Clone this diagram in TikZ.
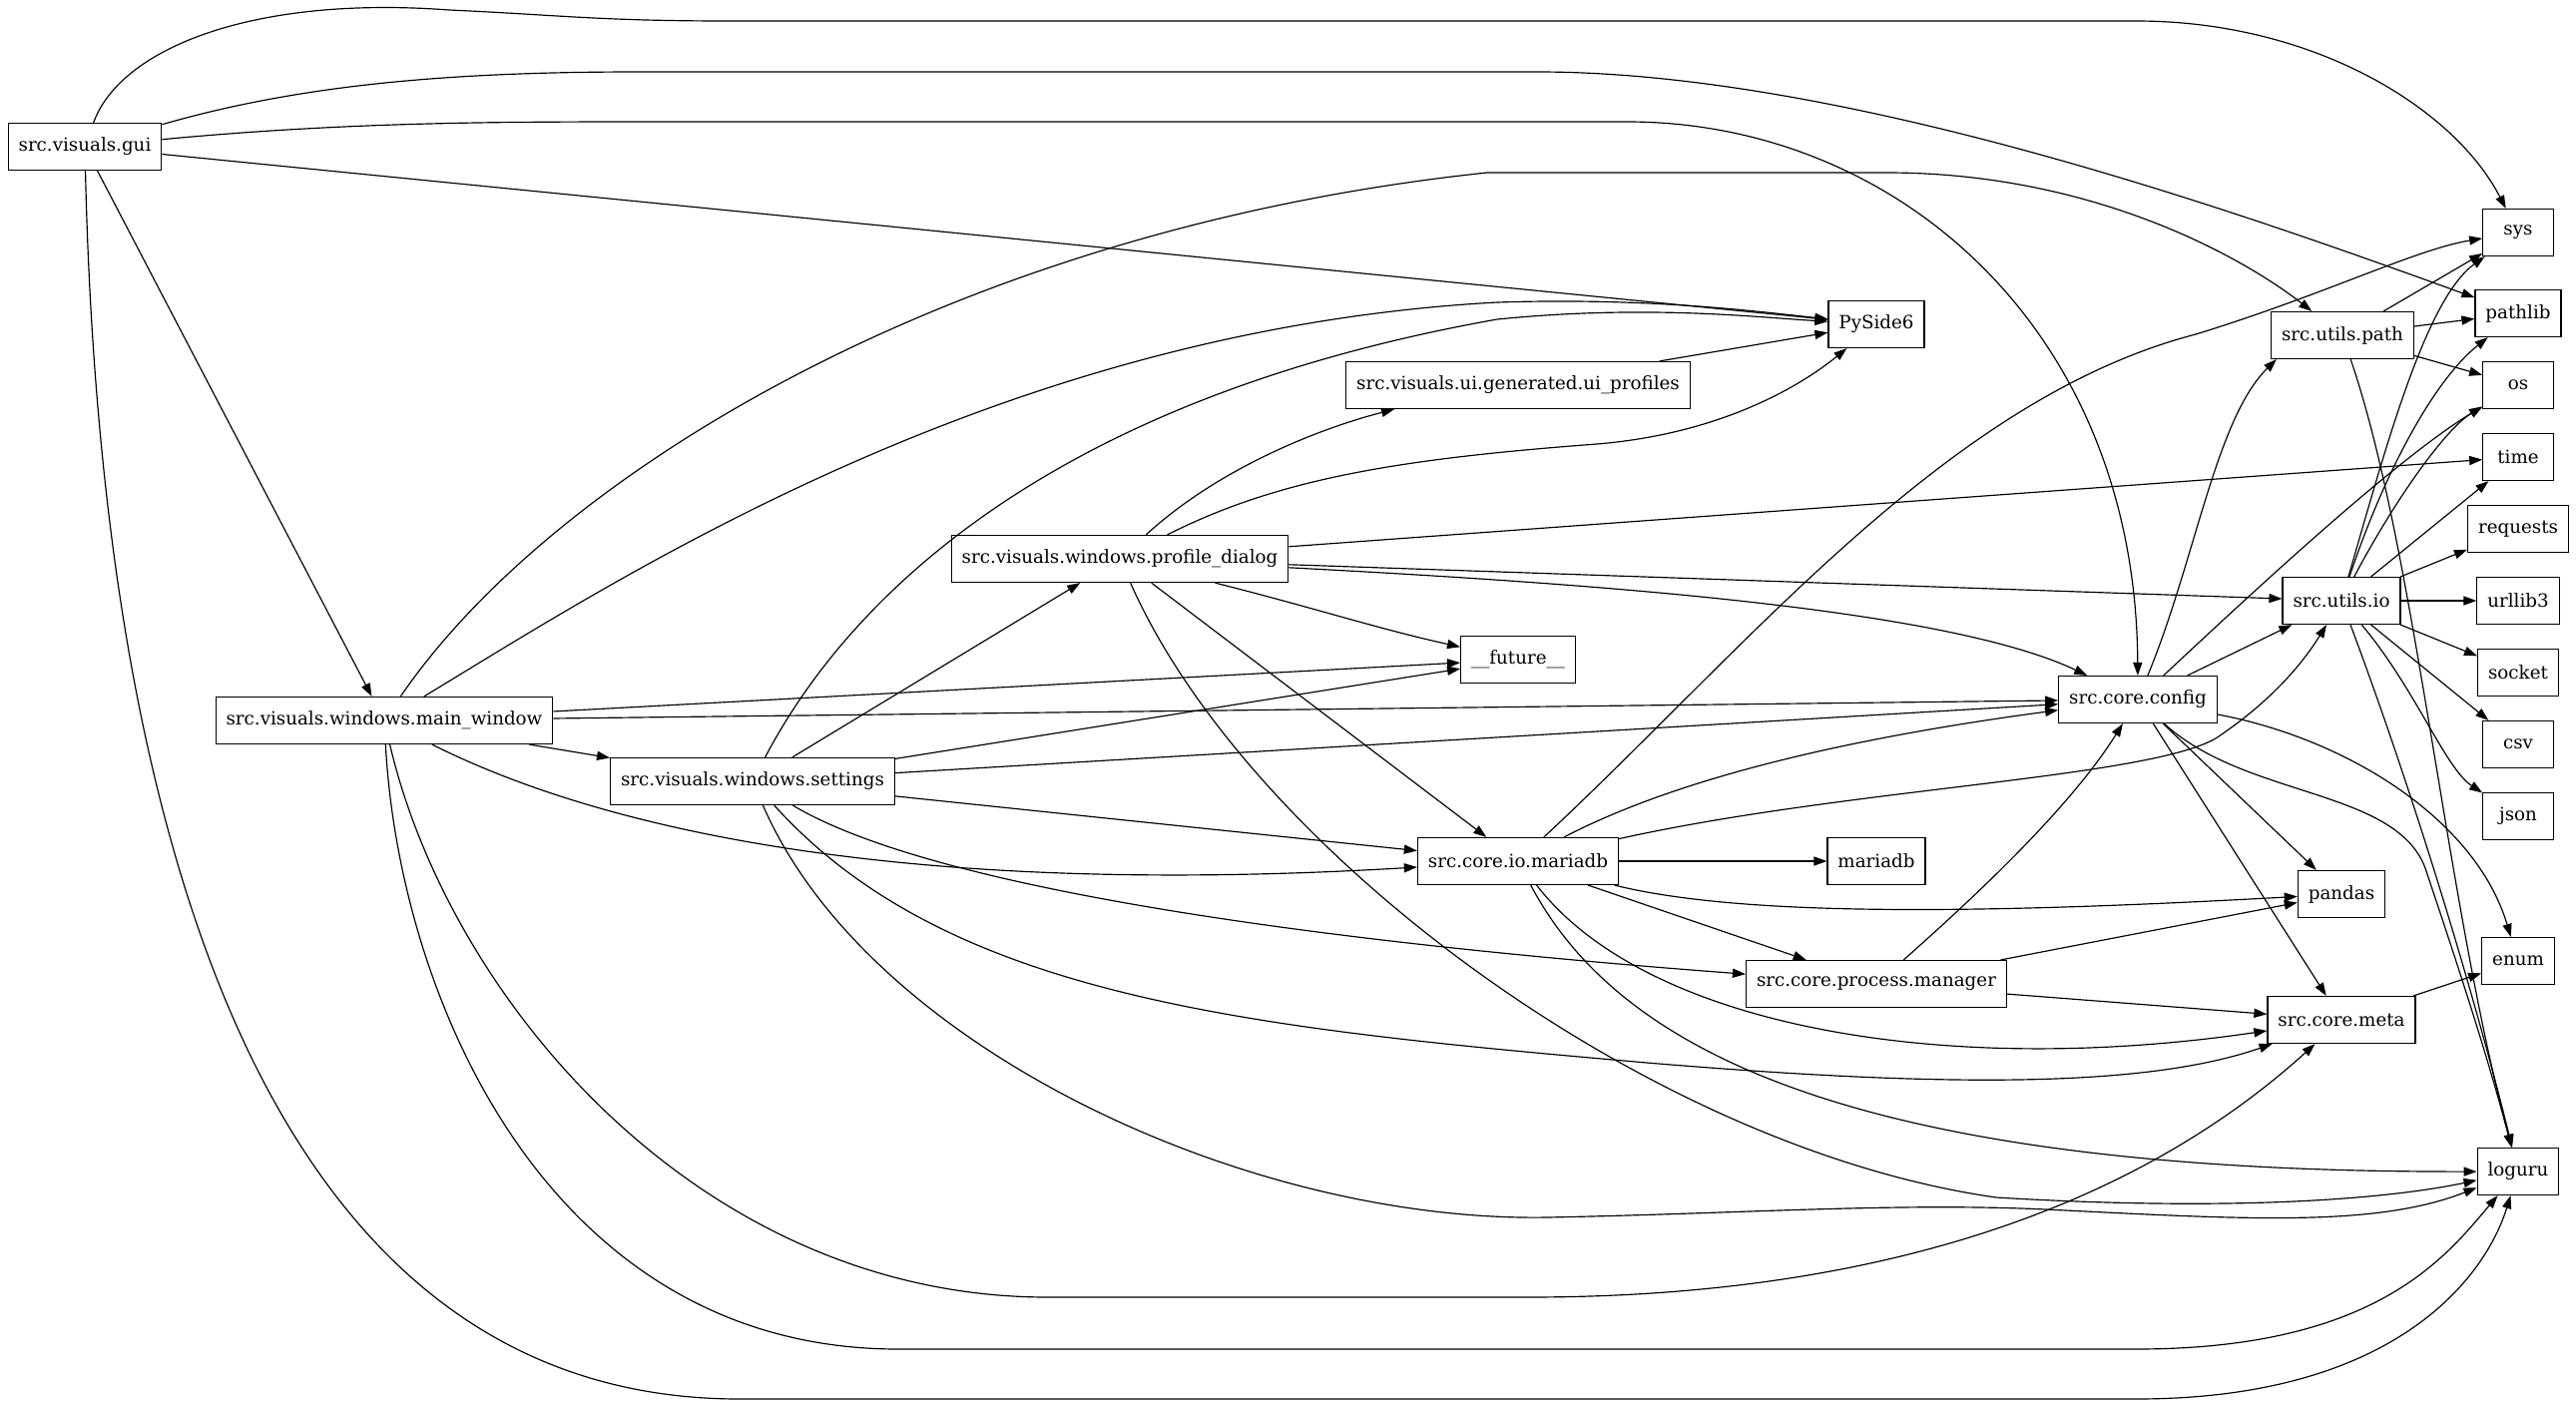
\documentclass[tikz,border=0pt]{standalone}
\usepackage{fontspec}
\setmainfont{DejaVu Serif}
\usepackage{tikz}
\usetikzlibrary{arrows.meta}

\begin{document}
\begin{tikzpicture}[
  x=0.766pt, y=-0.766pt,
  every node/.style={anchor=center, font=\fontsize{14pt}{16pt}\selectfont},
  mod/.style={draw, line width=0.9pt, rectangle, minimum height=36pt,
    minimum width=54pt, inner xsep=8pt},
  dep/.style={->, line width=0.9pt},
  >={Triangle[length=10pt,width=7pt]},
]
\useasboundingbox (0,0) rectangle (2581,1408);
% modules of the project
\node[mod] (gui)      at (85,147)   {src.visuals.gui};
\node[mod] (main)     at (385,722)  {src.visuals.windows.main\_window};
\node[mod] (settings) at (754,783)  {src.visuals.windows.settings};
\node[mod] (profile)  at (1122,560) {src.visuals.windows.profile\_dialog};
\node[mod] (uiprof)   at (1521,386) {src.visuals.ui.generated.ui\_profiles};
\node[mod] (iomaria)  at (1521,863) {src.core.io.mariadb};
\node[mod] (manager)  at (1880,986) {src.core.process.manager};
\node[mod] (config)   at (2142,701) {src.core.config};
\node[mod] (meta)     at (2346,1022) {src.core.meta};
\node[mod] (path)     at (2347,336) {src.utils.path};
\node[mod] (io)       at (2346,602) {src.utils.io};
% external packages
\node[mod] (pyside)   at (1880,325) {PySide6};
\node[mod] (future)   at (1521,661) {\_\_future\_\_};
\node[mod] (mariadb)  at (1880,863) {mariadb};
\node[mod] (pandas)   at (2346,896) {pandas};
\node[mod] (enum)     at (2523,963) {enum};
\node[mod] (loguru)   at (2523,1174) {loguru};
\foreach \pk/\y in {sys/233, pathlib/314, os/386, time/458, requests/530,
  urllib3/602, socket/674, csv/746, json/818}
  \node[mod] (\pk) at (2523,\y) {\pk};

% src.visuals.gui
\draw[dep] (gui) .. controls (120,50) and (250,-5) .. (450,10)
  .. controls (560,15) and (600,21) .. (730,21) -- (2140,21)
  .. controls (2320,21) and (2460,110) .. (sys);
\draw[dep] (gui) .. controls (300,85) and (450,72) .. (640,72) -- (1540,72)
  .. controls (1850,72) and (2250,215) .. (pathlib);
\draw[dep] (gui) .. controls (350,122) and (500,122) .. (660,122) -- (1630,122)
  .. controls (1900,122) and (2140,330) .. (config);
\draw[dep] (gui) -- (pyside);
\draw[dep] (gui) -- (main);
\draw[dep] (gui) .. controls (100,800) and (250,1402) .. (741,1402) -- (2140,1402)
  .. controls (2400,1402) and (2490,1280) .. (loguru);

% src.visuals.windows.main_window
\draw[dep] (main) .. controls (550,480) and (950,230) .. (1490,173) -- (1890,173)
  .. controls (2100,173) and (2250,260) .. (path);
\draw[dep] (main) .. controls (620,580) and (1000,330) .. (1500,303)
  .. controls (1650,298) and (1760,312) .. (pyside);
\draw[dep] (main) -- (future);
\draw[dep] (main) -- (config);
\draw[dep] (main) -- (settings);
\draw[dep] (main) .. controls (600,830) and (900,900) .. (iomaria);
\draw[dep] (main) .. controls (450,1000) and (700,1300) .. (1050,1300) -- (1530,1300)
  .. controls (1900,1300) and (2150,1200) .. (meta);
\draw[dep] (main) .. controls (400,1000) and (550,1352) .. (900,1352) -- (2140,1352)
  .. controls (2380,1352) and (2450,1260) .. (loguru);

% src.visuals.windows.settings
\draw[dep] (settings) .. controls (850,600) and (1050,400) .. (1500,320)
  .. controls (1650,305) and (1760,318) .. (pyside);
\draw[dep] (settings) -- (profile);
\draw[dep] (settings) -- (future);
\draw[dep] (settings) -- (config);
\draw[dep] (settings) -- (iomaria);
\draw[dep] (settings) .. controls (950,900) and (1400,950) .. (manager);
\draw[dep] (settings) .. controls (950,1000) and (1250,1030) .. (1650,1065)
  .. controls (1950,1090) and (2150,1090) .. (meta);
\draw[dep] (settings) .. controls (870,1050) and (1250,1225) .. (1550,1220)
  .. controls (1750,1216) and (1900,1205) .. (2050,1212)
  .. controls (2250,1222) and (2380,1230) .. (loguru);

% src.visuals.windows.profile_dialog
\draw[dep] (profile) .. controls (1220,470) and (1320,430) .. (uiprof.191);
\draw[dep] (profile) .. controls (1280,480) and (1400,460) .. (1600,445)
  .. controls (1720,435) and (1800,390) .. (pyside);
\draw[dep] (profile) -- (time);
\draw[dep] (profile) -- (io);
\draw[dep] (profile) .. controls (1600,585) and (1950,610) .. (config);
\draw[dep] (profile) .. controls (1320,610) and (1380,630) .. (future);
\draw[dep] (profile) -- (iomaria);
\draw[dep] (profile) .. controls (1250,850) and (1650,1150) .. (2000,1200)
  .. controls (2250,1215) and (2400,1200) .. (loguru);
\draw[dep] (uiprof) -- (pyside);

% src.core.io.mariadb
\draw[dep] (iomaria) .. controls (1750,650) and (1950,400) .. (2200,335)
  .. controls (2330,295) and (2420,250) .. (sys);
\draw[dep] (iomaria) .. controls (1680,780) and (1850,740) .. (config);
\draw[dep] (iomaria) .. controls (1850,790) and (2150,780) .. (2220,740)
  .. controls (2280,700) and (2310,660) .. (io);
\draw[dep] (iomaria) -- (mariadb);
\draw[dep] (iomaria) .. controls (1750,920) and (2000,915) .. (pandas);
\draw[dep] (iomaria) -- (manager);
\draw[dep] (iomaria) .. controls (1650,1030) and (1950,1080) .. (meta);
\draw[dep] (iomaria) .. controls (1620,1050) and (1850,1175) .. (loguru);

% src.core.process.manager
\draw[dep] (manager) .. controls (2000,880) and (2080,800) .. (config);
\draw[dep] (manager) -- (pandas);
\draw[dep] (manager) -- (meta);

% src.core.config
\draw[dep] (config) .. controls (2200,560) and (2220,420) .. (path.200);
\draw[dep] (config) .. controls (2250,600) and (2400,460) .. (os);
\draw[dep] (config) -- (io);
\draw[dep] (config) -- (pandas);
\draw[dep] (config) -- (meta);
\draw[dep] (config) .. controls (2350,740) and (2480,820) .. (enum);
\draw[dep] (config) .. controls (2250,800) and (2400,790) .. (2430,870)
  .. controls (2460,960) and (2490,1050) .. (loguru);
\draw[dep] (meta) -- (enum);

% src.utils.path
\draw[dep] (path) -- (sys);
\draw[dep] (path) -- (pathlib);
\draw[dep] (path) -- (os);
\draw[dep] (path) .. controls (2420,550) and (2450,900) .. (loguru);

% src.utils.io
\draw[dep] (io) .. controls (2390,450) and (2430,300) .. (sys);
\draw[dep] (io) .. controls (2390,470) and (2440,380) .. (pathlib);
\draw[dep] (io) .. controls (2400,500) and (2450,430) .. (os);
\foreach \pk in {time, requests, urllib3, socket, csv}
  \draw[dep] (io) -- (\pk);
\draw[dep] (io) .. controls (2420,690) and (2450,770) .. (json);
\draw[dep] (io) .. controls (2420,800) and (2480,1000) .. (loguru);
\end{tikzpicture}
\end{document}
